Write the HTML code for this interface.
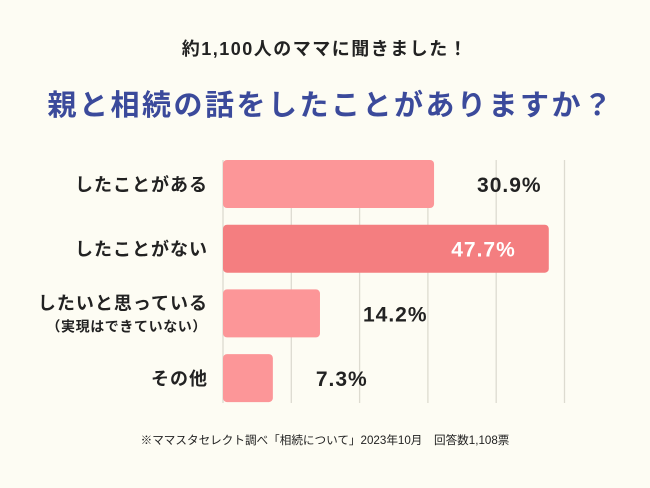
<!DOCTYPE html>
<html><head><meta charset="utf-8"><style>
body{margin:0;width:650px;height:488px;background:#fdfcf3;font-family:"Liberation Sans","Noto Sans CJK JP",sans-serif;overflow:hidden;position:relative}
.t{position:absolute;white-space:nowrap}
</style></head><body>
<div class="t" style="left:0;width:650px;text-align:center;top:35px;font-size:18px;font-weight:bold;color:#222;letter-spacing:1.5px">約1,100人のママに聞きました！</div>
<div class="t" style="left:6px;width:650px;text-align:center;top:82px;font-size:29px;font-weight:bold;color:#3b4a9b;letter-spacing:2.5px">親と相続の話をしたことがありますか？</div>
<svg id="c" width="650" height="488" style="position:absolute;left:0;top:0"></svg>
<div class="t" style="left:0;width:650px;text-align:center;top:432px;font-size:11.6px;color:#222">※ママスタセレクト調べ「相続について」2023年10月　回答数1,108票</div>
<script>
const categories=["したことがある","したことがない","したいと思っている","その他"];
const subLabels=["","","（実現はできていない）",""];
const values=[30.9,47.7,14.2,7.3];
const ticks=[0,10,20,30,40,50];
const NS="http://www.w3.org/2000/svg";
const svg=document.getElementById('c');
const x0=223,scale=6.83,top0=160,pitch=64.7,bh=48;
const X=v=>x0+v*scale, Y=i=>top0+i*pitch;
const FF='"Liberation Sans","Noto Sans CJK JP",sans-serif';
function el(t,a){const e=document.createElementNS(NS,t);for(const k in a)e.setAttribute(k,a[k]);svg.appendChild(e);return e;}
ticks.forEach(t=>{const l=el('line',{x1:X(t),x2:X(t),y1:160,y2:403,stroke:'#dddbd0','stroke-width':1.3});

});
values.forEach((v,i)=>{
 const hi=v===Math.max(...values);
 const r=el('rect',{x:X(0),y:Y(i),width:X(v)-X(0),height:bh,rx:4,fill:hi?'#f47e80':'#fc9698'});
 
 
 const inside=hi;
 const tx=el('text',{x:inside?X(v)-33:X(v)+43,y:Y(i)+bh/2+8,'font-size':21,'font-weight':'bold','letter-spacing':1,fill:inside?'#fff':'#222','text-anchor':inside?'end':'start','font-family':FF});
 tx.textContent=v.toFixed(1)+'%';
 
 
 const sub=subLabels[i];
 const cy=Y(i)+bh/2+(sub?-4:7);
 const c=el('text',{x:208,y:cy,'font-size':18,'font-weight':'bold','letter-spacing':1,fill:'#222','text-anchor':'end','font-family':FF});
 c.textContent=categories[i];
 
 
 if(sub){const s=el('text',{x:207,y:cy+22,'font-size':14,'font-weight':'bold','letter-spacing':0.6,fill:'#222','text-anchor':'end','font-family':FF});
 s.textContent=sub;
 
 }
});
</script>
</body></html>
